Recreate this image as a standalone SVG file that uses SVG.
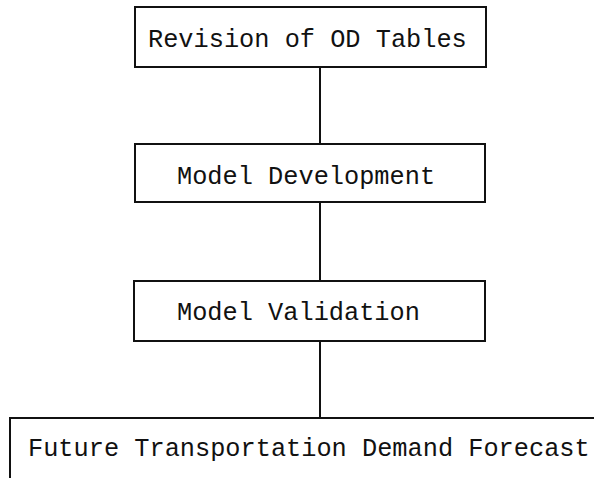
<svg xmlns="http://www.w3.org/2000/svg" width="594" height="478" viewBox="0 0 594 478">
<style>
.box{fill:none;stroke:#111;stroke-width:2}
.lbl{font-family:"Liberation Mono","Courier New",monospace;font-size:25.3px;fill:#111}
.conn{stroke:#111;stroke-width:2;fill:none}
</style>
<rect width="594" height="478" fill="#fff"/>
<g id="connectors">
<line class="conn" x1="320" y1="67" x2="320" y2="144"/>
<line class="conn" x1="320" y1="202" x2="320" y2="281"/>
<line class="conn" x1="320" y1="341" x2="320" y2="418"/>
</g>
<g id="node-revision">
<rect class="box" x="135" y="7" width="351" height="60"/>
<text class="lbl" x="148" y="47">Revision of OD Tables</text>
</g>
<g id="node-development">
<rect class="box" x="135" y="144" width="350" height="58"/>
<text class="lbl" x="177" y="184">Model Development</text>
</g>
<g id="node-validation">
<rect class="box" x="134" y="281" width="351" height="60"/>
<text class="lbl" x="177" y="320">Model Validation</text>
</g>
<g id="node-forecast">
<path class="box" d="M10,478 V418 H594"/>
<text class="lbl" x="28" y="456">Future Transportation Demand Forecast</text>
</g>
</svg>
